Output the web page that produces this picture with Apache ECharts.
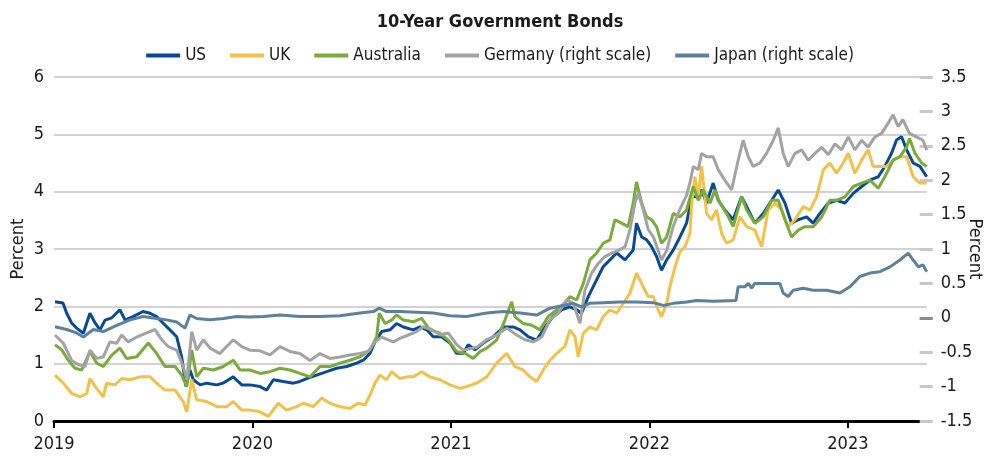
<!DOCTYPE html>
<html><head><meta charset="utf-8">
<script src="https://cdn.jsdelivr.net/npm/echarts@6/dist/echarts.min.js"></script>
<style>html,body{margin:0;padding:0;background:#fff}#c{width:1000px;height:466px}</style>
</head><body><div id="c"></div>
<script>
// x values are fractional years
const xTickYears = [2019, 2020, 2021, 2022, 2023];
const seriesNames = ['US', 'UK', 'Australia', 'Germany (right scale)', 'Japan (right scale)'];

const usData = [[2019.005,2.08],[2019.045,2.06],[2019.064,1.88],[2019.089,1.71],[2019.114,1.62],[2019.148,1.53],[2019.181,1.88],[2019.207,1.71],[2019.232,1.59],[2019.257,1.76],[2019.291,1.80],[2019.332,1.94],[2019.358,1.76],[2019.398,1.82],[2019.448,1.91],[2019.484,1.88],[2019.517,1.82],[2019.549,1.71],[2019.584,1.59],[2019.618,1.47],[2019.643,1.12],[2019.665,0.60],[2019.685,0.89],[2019.702,0.72],[2019.736,0.63],[2019.769,0.66],[2019.820,0.63],[2019.851,0.66],[2019.903,0.77],[2019.946,0.63],[2019.987,0.63],[2020.038,0.60],[2020.072,0.54],[2020.105,0.72],[2020.155,0.69],[2020.206,0.66],[2020.239,0.69],[2020.273,0.74],[2020.323,0.80],[2020.374,0.86],[2020.424,0.92],[2020.475,0.95],[2020.525,1.01],[2020.558,1.06],[2020.592,1.18],[2020.617,1.38],[2020.651,1.56],[2020.693,1.59],[2020.726,1.70],[2020.760,1.64],[2020.810,1.59],[2020.844,1.64],[2020.878,1.59],[2020.911,1.47],[2020.953,1.47],[2020.995,1.36],[2021.029,1.18],[2021.062,1.18],[2021.087,1.33],[2021.121,1.24],[2021.163,1.36],[2021.213,1.47],[2021.264,1.64],[2021.314,1.64],[2021.348,1.59],[2021.389,1.47],[2021.432,1.41],[2021.474,1.64],[2021.515,1.82],[2021.558,1.94],[2021.599,1.99],[2021.633,1.94],[2021.658,1.88],[2021.692,2.17],[2021.725,2.40],[2021.767,2.69],[2021.801,2.81],[2021.835,2.93],[2021.877,2.81],[2021.918,2.98],[2021.935,3.45],[2021.961,3.21],[2021.986,3.16],[2022.011,3.04],[2022.036,2.87],[2022.061,2.63],[2022.087,2.81],[2022.120,2.98],[2022.154,3.21],[2022.187,3.45],[2022.213,3.91],[2022.238,3.91],[2022.263,4.03],[2022.288,3.80],[2022.321,4.15],[2022.347,3.85],[2022.380,3.68],[2022.422,3.51],[2022.464,3.91],[2022.490,3.74],[2022.531,3.45],[2022.573,3.62],[2022.616,3.85],[2022.649,4.03],[2022.683,3.80],[2022.716,3.45],[2022.750,3.51],[2022.792,3.56],[2022.825,3.45],[2022.859,3.62],[2022.901,3.80],[2022.943,3.85],[2022.985,3.80],[2023.027,3.97],[2023.069,4.09],[2023.111,4.20],[2023.153,4.26],[2023.186,4.44],[2023.220,4.67],[2023.245,4.90],[2023.270,4.96],[2023.296,4.73],[2023.329,4.50],[2023.363,4.44],[2023.397,4.26]];

const ukData = [[2019.005,0.80],[2019.047,0.66],[2019.089,0.48],[2019.131,0.42],[2019.165,0.48],[2019.181,0.74],[2019.215,0.57],[2019.248,0.42],[2019.265,0.66],[2019.307,0.63],[2019.341,0.74],[2019.383,0.72],[2019.433,0.77],[2019.484,0.77],[2019.517,0.66],[2019.559,0.54],[2019.610,0.54],[2019.651,0.34],[2019.669,0.16],[2019.694,0.72],[2019.719,0.37],[2019.769,0.34],[2019.820,0.25],[2019.870,0.25],[2019.903,0.34],[2019.946,0.19],[2019.987,0.19],[2020.038,0.16],[2020.080,0.08],[2020.130,0.31],[2020.172,0.19],[2020.223,0.25],[2020.256,0.31],[2020.306,0.25],[2020.349,0.40],[2020.390,0.31],[2020.441,0.25],[2020.491,0.22],[2020.533,0.31],[2020.567,0.28],[2020.592,0.45],[2020.617,0.66],[2020.642,0.80],[2020.676,0.72],[2020.701,0.86],[2020.743,0.74],[2020.777,0.77],[2020.810,0.77],[2020.852,0.86],[2020.894,0.77],[2020.945,0.72],[2020.995,0.63],[2021.045,0.57],[2021.079,0.60],[2021.129,0.66],[2021.180,0.77],[2021.230,1.01],[2021.281,1.18],[2021.322,0.95],[2021.364,0.89],[2021.398,0.77],[2021.432,0.69],[2021.465,0.89],[2021.499,1.06],[2021.533,1.18],[2021.574,1.30],[2021.599,1.59],[2021.625,1.47],[2021.641,1.12],[2021.667,1.53],[2021.700,1.64],[2021.734,1.59],[2021.767,1.82],[2021.801,1.94],[2021.835,1.88],[2021.868,2.05],[2021.902,2.23],[2021.935,2.58],[2021.969,2.34],[2021.994,2.17],[2022.019,2.17],[2022.044,1.94],[2022.061,1.82],[2022.087,2.05],[2022.103,2.34],[2022.129,2.69],[2022.154,2.95],[2022.179,3.04],[2022.204,3.27],[2022.213,3.80],[2022.229,4.26],[2022.246,3.91],[2022.263,4.44],[2022.288,3.62],[2022.313,3.51],[2022.338,3.68],[2022.364,3.27],[2022.389,3.10],[2022.422,3.16],[2022.456,3.56],[2022.490,3.39],[2022.531,3.33],[2022.565,3.04],[2022.598,3.68],[2022.632,3.80],[2022.666,3.68],[2022.699,3.39],[2022.733,3.51],[2022.775,3.74],[2022.809,3.68],[2022.842,3.91],[2022.876,4.38],[2022.909,4.50],[2022.943,4.32],[2022.976,4.50],[2023.002,4.67],[2023.035,4.32],[2023.069,4.55],[2023.102,4.73],[2023.127,4.44],[2023.161,4.44],[2023.195,4.44],[2023.228,4.55],[2023.262,4.61],[2023.296,4.61],[2023.329,4.26],[2023.363,4.15],[2023.397,4.15]];

const australiaData = [[2019.005,1.33],[2019.039,1.24],[2019.072,1.06],[2019.106,0.92],[2019.140,0.89],[2019.181,1.21],[2019.215,1.01],[2019.248,0.95],[2019.291,1.15],[2019.332,1.27],[2019.366,1.09],[2019.417,1.12],[2019.475,1.36],[2019.517,1.18],[2019.559,0.95],[2019.610,0.95],[2019.643,0.80],[2019.669,0.60],[2019.694,1.24],[2019.719,0.77],[2019.752,0.92],[2019.803,0.89],[2019.853,0.95],[2019.903,1.06],[2019.937,0.89],[2019.987,0.89],[2020.038,0.83],[2020.088,0.86],[2020.139,0.92],[2020.189,0.89],[2020.239,0.83],[2020.290,0.77],[2020.340,0.95],[2020.390,0.95],[2020.441,1.01],[2020.491,1.06],[2020.542,1.12],[2020.592,1.24],[2020.626,1.47],[2020.639,1.88],[2020.668,1.70],[2020.701,1.76],[2020.726,1.85],[2020.760,1.76],[2020.810,1.73],[2020.852,1.79],[2020.894,1.59],[2020.945,1.53],[2020.986,1.41],[2021.029,1.21],[2021.071,1.18],[2021.112,1.09],[2021.146,1.21],[2021.180,1.27],[2021.230,1.41],[2021.272,1.76],[2021.306,2.08],[2021.322,1.82],[2021.364,1.70],[2021.407,1.67],[2021.448,1.59],[2021.490,1.82],[2021.533,1.94],[2021.574,2.05],[2021.599,2.17],[2021.633,2.11],[2021.667,2.40],[2021.700,2.81],[2021.734,2.93],[2021.767,3.10],[2021.801,3.16],[2021.826,3.51],[2021.860,3.45],[2021.893,3.39],[2021.918,3.80],[2021.935,4.17],[2021.961,3.80],[2021.986,3.56],[2022.011,3.51],[2022.036,3.39],[2022.061,3.10],[2022.087,3.21],[2022.120,3.62],[2022.154,3.56],[2022.187,3.68],[2022.221,4.09],[2022.246,3.85],[2022.271,4.03],[2022.305,3.80],[2022.330,4.03],[2022.355,3.80],[2022.389,3.62],[2022.422,3.39],[2022.464,3.91],[2022.490,3.68],[2022.531,3.45],[2022.573,3.56],[2022.616,3.85],[2022.649,3.85],[2022.683,3.51],[2022.716,3.21],[2022.750,3.33],[2022.783,3.39],[2022.825,3.39],[2022.868,3.56],[2022.909,3.85],[2022.943,3.85],[2022.985,3.91],[2023.027,4.09],[2023.069,4.15],[2023.111,4.20],[2023.153,4.06],[2023.186,4.26],[2023.228,4.55],[2023.262,4.61],[2023.296,4.78],[2023.310,4.93],[2023.338,4.67],[2023.372,4.50],[2023.397,4.44]];

// right scale
const germanyData = [[2019.005,-0.25],[2019.047,-0.37],[2019.089,-0.62],[2019.122,-0.68],[2019.156,-0.71],[2019.181,-0.47],[2019.215,-0.59],[2019.248,-0.57],[2019.282,-0.35],[2019.316,-0.37],[2019.341,-0.25],[2019.374,-0.35],[2019.417,-0.28],[2019.467,-0.22],[2019.509,-0.17],[2019.543,-0.32],[2019.576,-0.42],[2019.618,-0.47],[2019.651,-0.71],[2019.669,-0.90],[2019.694,-0.20],[2019.719,-0.47],[2019.752,-0.32],[2019.786,-0.44],[2019.836,-0.52],[2019.903,-0.32],[2019.946,-0.42],[2019.987,-0.47],[2020.038,-0.48],[2020.088,-0.54],[2020.139,-0.42],[2020.189,-0.49],[2020.239,-0.52],[2020.290,-0.62],[2020.340,-0.52],[2020.390,-0.59],[2020.441,-0.57],[2020.491,-0.54],[2020.542,-0.52],[2020.583,-0.49],[2020.617,-0.35],[2020.651,-0.28],[2020.684,-0.32],[2020.709,-0.35],[2020.743,-0.30],[2020.785,-0.25],[2020.827,-0.20],[2020.860,-0.13],[2020.903,-0.17],[2020.945,-0.25],[2020.986,-0.22],[2021.029,-0.39],[2021.062,-0.47],[2021.096,-0.45],[2021.129,-0.43],[2021.180,-0.32],[2021.230,-0.25],[2021.281,-0.15],[2021.331,-0.25],[2021.373,-0.32],[2021.415,-0.35],[2021.457,-0.28],[2021.499,-0.03],[2021.541,0.07],[2021.583,0.26],[2021.616,0.21],[2021.650,-0.08],[2021.675,0.40],[2021.709,0.65],[2021.742,0.79],[2021.776,0.89],[2021.810,0.94],[2021.843,0.98],[2021.877,1.03],[2021.902,1.28],[2021.927,1.67],[2021.944,1.81],[2021.969,1.57],[2021.994,1.28],[2022.019,1.18],[2022.044,0.98],[2022.061,0.84],[2022.087,0.98],[2022.120,1.33],[2022.154,1.58],[2022.187,1.78],[2022.204,1.96],[2022.221,2.20],[2022.246,2.15],[2022.263,2.39],[2022.288,2.34],[2022.321,2.34],[2022.347,2.15],[2022.380,2.00],[2022.414,1.86],[2022.447,2.29],[2022.472,2.58],[2022.498,2.34],[2022.523,2.20],[2022.557,2.25],[2022.590,2.39],[2022.624,2.58],[2022.649,2.76],[2022.674,2.39],[2022.699,2.20],[2022.733,2.39],[2022.767,2.44],[2022.800,2.29],[2022.834,2.39],[2022.868,2.48],[2022.901,2.37],[2022.935,2.53],[2022.968,2.44],[2023.002,2.63],[2023.035,2.44],[2023.069,2.58],[2023.102,2.48],[2023.136,2.63],[2023.170,2.68],[2023.203,2.83],[2023.228,2.95],[2023.253,2.78],[2023.277,2.88],[2023.310,2.68],[2023.345,2.63],[2023.378,2.58],[2023.397,2.44]];

const japanData = [[2019.005,-0.13],[2019.064,-0.17],[2019.114,-0.22],[2019.148,-0.28],[2019.198,-0.17],[2019.248,-0.20],[2019.316,-0.11],[2019.383,-0.03],[2019.450,0.02],[2019.517,-0.01],[2019.568,-0.03],[2019.618,-0.06],[2019.660,-0.15],[2019.685,0.04],[2019.719,-0.01],[2019.786,-0.03],[2019.853,-0.01],[2019.920,0.02],[2019.987,0.01],[2020.054,0.02],[2020.139,0.04],[2020.239,0.02],[2020.340,0.02],[2020.441,0.03],[2020.542,0.07],[2020.609,0.09],[2020.639,0.14],[2020.676,0.09],[2020.743,0.09],[2020.827,0.08],[2020.911,0.07],[2020.995,0.03],[2021.079,0.02],[2021.180,0.07],[2021.264,0.09],[2021.348,0.07],[2021.432,0.04],[2021.499,0.14],[2021.566,0.18],[2021.616,0.21],[2021.658,0.16],[2021.700,0.21],[2021.767,0.22],[2021.851,0.23],[2021.935,0.23],[2022.019,0.22],[2022.070,0.18],[2022.120,0.21],[2022.187,0.23],[2022.238,0.25],[2022.321,0.24],[2022.436,0.25],[2022.447,0.45],[2022.481,0.45],[2022.498,0.50],[2022.515,0.43],[2022.531,0.50],[2022.590,0.50],[2022.657,0.50],[2022.674,0.36],[2022.699,0.31],[2022.725,0.40],[2022.775,0.43],[2022.825,0.40],[2022.893,0.40],[2022.960,0.36],[2023.010,0.45],[2023.060,0.60],[2023.111,0.65],[2023.161,0.67],[2023.212,0.74],[2023.262,0.84],[2023.304,0.94],[2023.329,0.84],[2023.355,0.74],[2023.378,0.77],[2023.397,0.67]];

const FONT = "'Liberation Sans Narrow','DejaVu Sans Condensed','Arial Narrow',sans-serif";
const TXT = '#1a1a1a';
const colors = ['#0b4a92', '#f2c14a', '#7aab3a', '#a3a3a3', '#5d809b'];

function mk(i, data, axis) {
  return {
    name: seriesNames[i], type: 'line', data: data, yAxisIndex: axis,
    showSymbol: false, symbol: 'none', smooth: false,
    lineStyle: { color: colors[i], width: 3 }, itemStyle: { color: colors[i] },
    emphasis: { disabled: true }
  };
}

const chart = echarts.init(document.getElementById('c'), null, { renderer: 'canvas' });
chart.setOption({
  animation: false,
  title: { text: '10-Year Government Bonds', left: 'center', top: 8,
    textStyle: { fontFamily: FONT, fontWeight: 'bold', fontSize: 18, color: TXT } },
  legend: { top: 42, left: 'center', icon: 'rect', itemWidth: 34, itemHeight: 4, itemGap: 24,
    textStyle: { fontFamily: FONT, fontSize: 17, color: TXT }, data: seriesNames },
  grid: { left: 54, right: 73.3, top: 77, bottom: 45, containLabel: false, outerBoundsMode: 'none' },
  xAxis: {
    type: 'value', min: 2019, max: 2023.397, interval: 1,
    axisLine: { show: true, lineStyle: { color: '#000', width: 3 } },
    axisTick: { show: true, length: 7, lineStyle: { color: '#000', width: 2 }, customValues: xTickYears },
    axisLabel: { customValues: xTickYears, formatter: v => String(Math.round(v)),
      fontFamily: FONT, fontSize: 18, color: TXT, margin: 14 },
    splitLine: { show: false }
  },
  yAxis: [
    { type: 'value', min: 0, max: 6, interval: 1, position: 'left',
      name: 'Percent', nameLocation: 'middle', nameGap: 27, nameMoveOverlap: false,
      nameTextStyle: { fontFamily: FONT, fontSize: 18, color: TXT },
      axisLine: { show: false }, axisTick: { show: false },
      axisLabel: { fontFamily: FONT, fontSize: 18, color: TXT, margin: 10 },
      splitLine: { show: true, lineStyle: { color: '#d2d2d2', width: 2 } } },
    { type: 'value', min: -1.5, max: 3.5, interval: 0.5, position: 'right', offset: -7,
      name: 'Percent', nameLocation: 'middle', nameRotate: -90, nameGap: 46, nameMoveOverlap: false,
      nameTextStyle: { fontFamily: FONT, fontSize: 18, color: TXT },
      axisLine: { show: false },
      axisTick: { show: true, length: 13, lineStyle: { color: '#c8c8c8', width: 3 } },
      axisLabel: { fontFamily: FONT, fontSize: 18, color: TXT, margin: 21 },
      splitLine: { show: false } },
    { type: 'value', min: -1.5, max: 3.5, interval: 0.5, position: 'right', offset: -7,
      axisLine: { show: false },
      axisTick: { show: true, length: 13, lineStyle: { color: '#8a8a8a', width: 3 }, customValues: [0] },
      axisLabel: { show: false }, splitLine: { show: false } }
  ],
  series: [
    mk(0, usData, 0),
    mk(1, ukData, 0),
    mk(2, australiaData, 0),
    mk(3, germanyData, 1),
    mk(4, japanData, 1)
  ]
});
</script>
</body></html>
